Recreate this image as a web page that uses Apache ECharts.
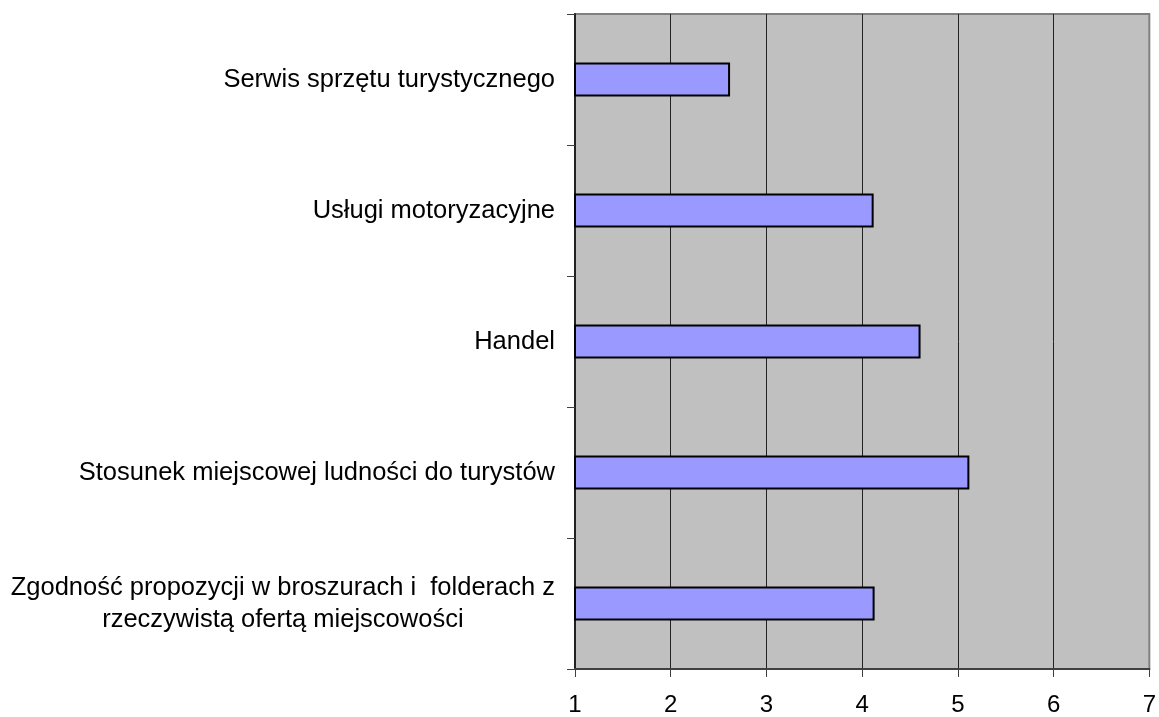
<!DOCTYPE html>
<html>
<head>
<meta charset="utf-8">
<script src="https://cdn.jsdelivr.net/npm/echarts@6/dist/echarts.min.js"></script>
<style>
  html, body { margin: 0; padding: 0; background: #fff; }
  #chart { width: 1159px; height: 717px; }
</style>
</head>
<body>
<div id="chart"></div>
<script>
// categories top -> bottom
const categories = [
  'Serwis sprzętu turystycznego',
  'Usługi motoryzacyjne',
  'Handel',
  'Stosunek miejscowej ludności do turystów',
  'Zgodność propozycji w broszurach i  folderach z\nrzeczywistą ofertą miejscowości'
];
const values = [2.62, 4.12, 4.61, 5.12, 4.13];
const xMin = 1;
const xMax = 7;

const chart = echarts.init(document.getElementById('chart'));
chart.setOption({
  animation: false,
  textStyle: { fontFamily: 'Liberation Sans, Arial, sans-serif' },
  grid: {
    left: 575, right: 9, top: 14, bottom: 45,
    show: true,
    backgroundColor: '#c0c0c0',
    borderColor: '#808080',
    borderWidth: 2
  },
  xAxis: {
    type: 'value',
    min: xMin,
    max: xMax,
    interval: 1,
    axisLine: { show: true, lineStyle: { color: '#404040', width: 2 } },
    axisTick: { show: true, length: 8, lineStyle: { color: '#404040' } },
    axisLabel: { color: '#000', fontSize: 24, margin: 24 },
    splitLine: { show: true, lineStyle: { color: ['#222', '#222', '#222', '#222', '#222', '#222', '#808080'], width: 1 } }
  },
  yAxis: {
    type: 'category',
    inverse: true,
    data: categories,
    axisLine: { show: true, lineStyle: { color: '#222', width: 2 } },
    axisTick: { show: true, length: 8, lineStyle: { color: '#404040' } },
    axisLabel: {
      margin: 20,
      formatter: v => '{a|' + v + '}',
      rich: {
        a: { align: 'center', fontSize: 25.5, lineHeight: 32, color: '#000',
             fontFamily: 'Liberation Sans, Arial, sans-serif' }
      }
    }
  },
  series: [{
    type: 'bar',
    data: values,
    barWidth: 34,
    itemStyle: { color: '#9999ff', borderColor: '#000', borderWidth: 2 }
  }]
});
window.onresize = () => chart.resize();
</script>
</body>
</html>
